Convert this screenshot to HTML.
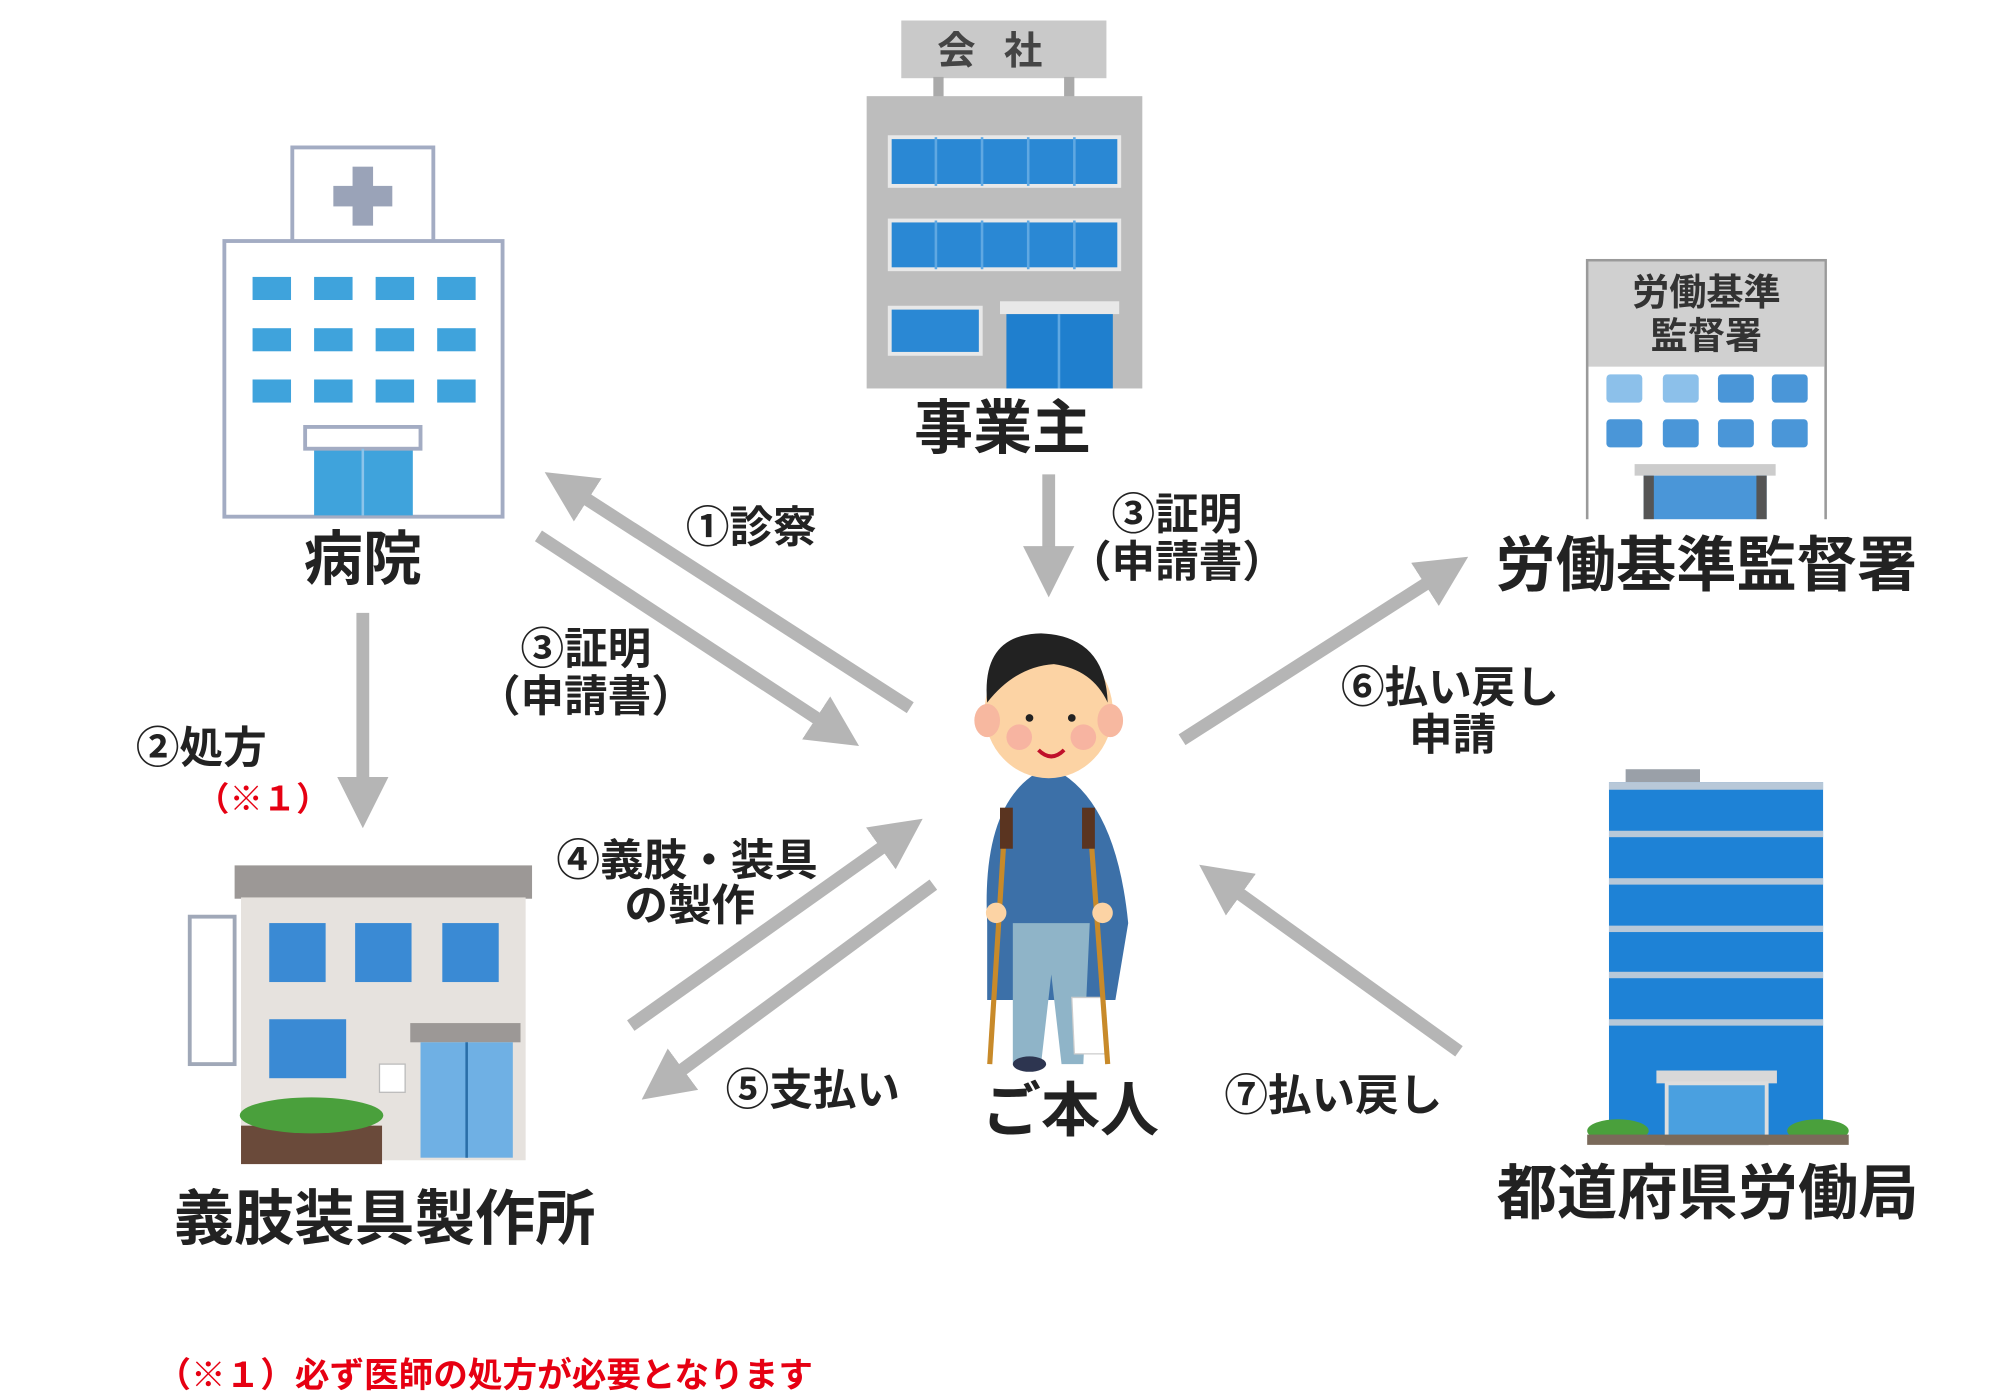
<!DOCTYPE html>
<html><head><meta charset="utf-8"><style>
html,body{margin:0;padding:0;background:#fff;}
svg{display:block;}
text{font-family:"Liberation Sans","Noto Sans CJK JP",sans-serif;}
</style></head><body>
<svg width="2000" height="1400" viewBox="0 0 1560 1092" preserveAspectRatio="none" xmlns="http://www.w3.org/2000/svg">
<defs>
<marker id="ah" markerWidth="4" markerHeight="4" refX="2.2" refY="2" orient="auto" markerUnits="strokeWidth">
<path d="M0,0 L4,2 L0,4 Z" fill="#b5b5b5"/></marker>
</defs>
<rect width="1560" height="1092" fill="#fff"/>

<g stroke="#b5b5b5" stroke-width="10" fill="none" marker-end="url(#ah)">
<line x1="710" y1="552" x2="440" y2="378"/>
<line x1="420" y1="418" x2="655" y2="572"/>
<line x1="818" y1="370" x2="818" y2="448"/>
<line x1="283" y1="478" x2="283" y2="628"/>
<line x1="492" y1="800" x2="705" y2="649"/>
<line x1="728" y1="690" x2="515" y2="847"/>
<line x1="922" y1="577" x2="1130" y2="444"/>
<line x1="1138" y1="820" x2="950" y2="685"/>
</g>

<!-- Hospital -->
<rect x="228" y="115" width="110" height="75" fill="#fff" stroke="#a3acc3" stroke-width="3"/>
<rect x="275" y="130" width="16" height="46" fill="#9aa3b8"/>
<rect x="260" y="145" width="46" height="16" fill="#9aa3b8"/>
<rect x="175" y="188" width="217" height="215" fill="#fff" stroke="#a3acc3" stroke-width="3"/>
<g fill="#3fa3dc">
<rect x="197" y="216" width="30" height="18"/><rect x="245" y="216" width="30" height="18"/><rect x="293" y="216" width="30" height="18"/><rect x="341" y="216" width="30" height="18"/>
<rect x="197" y="256" width="30" height="18"/><rect x="245" y="256" width="30" height="18"/><rect x="293" y="256" width="30" height="18"/><rect x="341" y="256" width="30" height="18"/>
<rect x="197" y="296" width="30" height="18"/><rect x="245" y="296" width="30" height="18"/><rect x="293" y="296" width="30" height="18"/><rect x="341" y="296" width="30" height="18"/>
<rect x="245" y="350" width="77" height="52"/>
</g>
<rect x="238" y="333" width="90" height="17" fill="#fff" stroke="#a3acc3" stroke-width="3"/>
<line x1="283" y1="350" x2="283" y2="402" stroke="#8cc4ea" stroke-width="2"/>

<!-- Company -->
<rect x="703" y="16" width="160" height="45" fill="#c9c9c9"/>
<text x="783" y="50" font-size="30" font-weight="bold" fill="#444" text-anchor="middle" letter-spacing="22">会社</text>
<rect x="728" y="60" width="8" height="16" fill="#aaa"/><rect x="830" y="60" width="8" height="16" fill="#aaa"/>
<rect x="676" y="75" width="215" height="228" fill="#bdbdbd"/>
<rect x="694" y="107" width="179" height="38" fill="#2a88d4" stroke="#e8e8e8" stroke-width="3"/>
<rect x="694" y="172" width="179" height="38" fill="#2a88d4" stroke="#e8e8e8" stroke-width="3"/>
<rect x="694" y="240" width="71" height="36" fill="#2a88d4" stroke="#e8e8e8" stroke-width="3"/>
<rect x="780" y="235" width="93" height="10" fill="#e8e8e8"/>
<rect x="785" y="245" width="83" height="58" fill="#1f7fce"/>
<g stroke="#5fa8e2" stroke-width="2"><line x1="730" y1="107" x2="730" y2="145"/><line x1="766" y1="107" x2="766" y2="145"/><line x1="802" y1="107" x2="802" y2="145"/><line x1="838" y1="107" x2="838" y2="145"/>
<line x1="730" y1="172" x2="730" y2="210"/><line x1="766" y1="172" x2="766" y2="210"/><line x1="802" y1="172" x2="802" y2="210"/><line x1="838" y1="172" x2="838" y2="210"/><line x1="826" y1="245" x2="826" y2="303"/></g>

<!-- Labor office -->
<rect x="1238" y="203" width="186" height="210" fill="#fff" stroke="#9a9a9a" stroke-width="2"/>
<rect x="1239" y="204" width="184" height="82" fill="#d0d0d0"/>
<text x="1331" y="238" font-size="29" font-weight="bold" fill="#333" text-anchor="middle">労働基準</text>
<text x="1331" y="272" font-size="29" font-weight="bold" fill="#333" text-anchor="middle">監督署</text>
<g fill="#4a96d8">
<rect x="1253" y="292" width="28" height="22" rx="3" fill="#8cc0ea"/><rect x="1297" y="292" width="28" height="22" rx="3" fill="#8cc0ea"/><rect x="1340" y="292" width="28" height="22" rx="3"/><rect x="1382" y="292" width="28" height="22" rx="3"/>
<rect x="1253" y="327" width="28" height="22" rx="3"/><rect x="1297" y="327" width="28" height="22" rx="3"/><rect x="1340" y="327" width="28" height="22" rx="3"/><rect x="1382" y="327" width="28" height="22" rx="3"/>
</g>
<rect x="1275" y="362" width="110" height="9" fill="#ccc"/>
<rect x="1282" y="371" width="96" height="40" fill="#4a96d8"/>
<rect x="1282" y="371" width="8" height="40" fill="#555"/><rect x="1370" y="371" width="8" height="40" fill="#555"/>
<rect x="1200" y="405" width="260" height="20" fill="#fff"/>

<!-- Prosthetics shop -->
<rect x="148" y="715" width="35" height="115" fill="#fff" stroke="#a0a8b8" stroke-width="3"/>
<rect x="183" y="675" width="232" height="26" fill="#9c9896"/>
<rect x="188" y="700" width="222" height="205" fill="#e6e2de"/>
<g fill="#3a8ad4">
<rect x="210" y="720" width="44" height="46"/><rect x="277" y="720" width="44" height="46"/><rect x="345" y="720" width="44" height="46"/>
<rect x="210" y="795" width="60" height="46"/>
</g>
<rect x="320" y="798" width="86" height="15" fill="#9c9896"/>
<rect x="328" y="813" width="72" height="90" fill="#6fb0e4"/>
<line x1="364" y1="813" x2="364" y2="903" stroke="#2a6ea8" stroke-width="2"/>
<rect x="296" y="830" width="20" height="22" fill="#fff" stroke="#bbb"/>
<rect x="188" y="878" width="110" height="30" fill="#6a4a3a"/>
<ellipse cx="243" cy="870" rx="56" ry="14" fill="#4aa03c"/>

<!-- Tower -->
<rect x="1268" y="600" width="58" height="10" fill="#9aa0a8"/>
<rect x="1255" y="610" width="167" height="282" fill="#1e82d6"/>
<g fill="#b8c8d8">
<rect x="1255" y="610" width="167" height="6"/><rect x="1255" y="648" width="167" height="5"/><rect x="1255" y="685" width="167" height="5"/><rect x="1255" y="722" width="167" height="5"/><rect x="1255" y="758" width="167" height="5"/><rect x="1255" y="795" width="167" height="5"/>
</g>
<rect x="1292" y="835" width="94" height="10" fill="#d8d8d8"/>
<rect x="1300" y="845" width="78" height="47" fill="#4aa0e0" stroke="#ddd" stroke-width="3"/>
<ellipse cx="1262" cy="882" rx="24" ry="9" fill="#4aa03c"/><ellipse cx="1418" cy="882" rx="24" ry="9" fill="#4aa03c"/>
<rect x="1238" y="885" width="204" height="8" fill="#7a6a5a"/>

<!-- Person -->
<path d="M770 720 Q765 620 818 598 Q870 620 880 720 L870 780 L770 780 Z" fill="#3c70a8"/>
<path d="M790 720 L850 720 L845 830 L828 830 L820 760 L812 830 L790 830 Z" fill="#8fb4c8"/>
<path d="M836 778 L860 778 L862 822 L838 822 Z" fill="#fff" stroke="#ccc"/>
<ellipse cx="803" cy="830" rx="13" ry="6" fill="#2d3550"/>
<ellipse cx="818" cy="555" rx="50" ry="52" fill="#fcd3a4"/>
<ellipse cx="770" cy="562" rx="10" ry="13" fill="#f7b8a0"/><ellipse cx="866" cy="562" rx="10" ry="13" fill="#f7b8a0"/>
<path d="M770 548 Q765 495 812 494 Q862 496 864 548 Q852 522 822 518 Q792 520 770 548 Z" fill="#222"/>
<circle cx="803" cy="560" r="3" fill="#222"/><circle cx="836" cy="560" r="3" fill="#222"/>
<path d="M810 585 Q820 595 830 585" stroke="#c0102a" stroke-width="3" fill="none"/>
<circle cx="795" cy="575" r="10" fill="#f4a0a0" opacity="0.6"/><circle cx="845" cy="575" r="10" fill="#f4a0a0" opacity="0.6"/>
<g stroke="#c88a2a" stroke-width="4"><line x1="784" y1="640" x2="772" y2="830"/><line x1="850" y1="640" x2="864" y2="830"/></g>
<rect x="780" y="630" width="10" height="32" fill="#5a3420"/><rect x="844" y="630" width="10" height="32" fill="#5a3420"/>
<circle cx="777" cy="712" r="8" fill="#fcd3a4"/><circle cx="860" cy="712" r="8" fill="#fcd3a4"/>

<!-- Labels -->
<g font-weight="bold" fill="#222" text-anchor="middle">
<text x="782" y="350" font-size="46">事業主</text>
<text x="283" y="452" font-size="46">病院</text>
<text x="1331" y="457" font-size="47">労働基準監督署</text>
<text x="300" y="967" font-size="47">義肢装具製作所</text>
<text x="1332" y="947" font-size="47">都道府県労働局</text>
<text x="835" y="882" font-size="46">ご本人</text>
<g font-size="34">
<text x="586" y="423">①診察</text>
<text x="918" y="413">③証明</text>
<text x="918" y="450">（申請書）</text>
<text x="457" y="518">③証明</text>
<text x="457" y="555">（申請書）</text>
<text x="157" y="595">②処方</text>
<text x="536" y="683">④義肢・装具</text>
<text x="538" y="718">の製作</text>
<text x="634" y="862">⑤支払い</text>
<text x="1131" y="548">⑥払い戻し</text>
<text x="1133" y="585">申請</text>
<text x="1040" y="866">⑦払い戻し</text>
</g>
<text x="205" y="632" font-size="26" fill="#e60012">（※１）</text>
</g>
<text x="122" y="1082" font-size="27" font-weight="bold" fill="#e60012">（※１）必ず医師の処方が必要となります</text>
</svg>
</body></html>
